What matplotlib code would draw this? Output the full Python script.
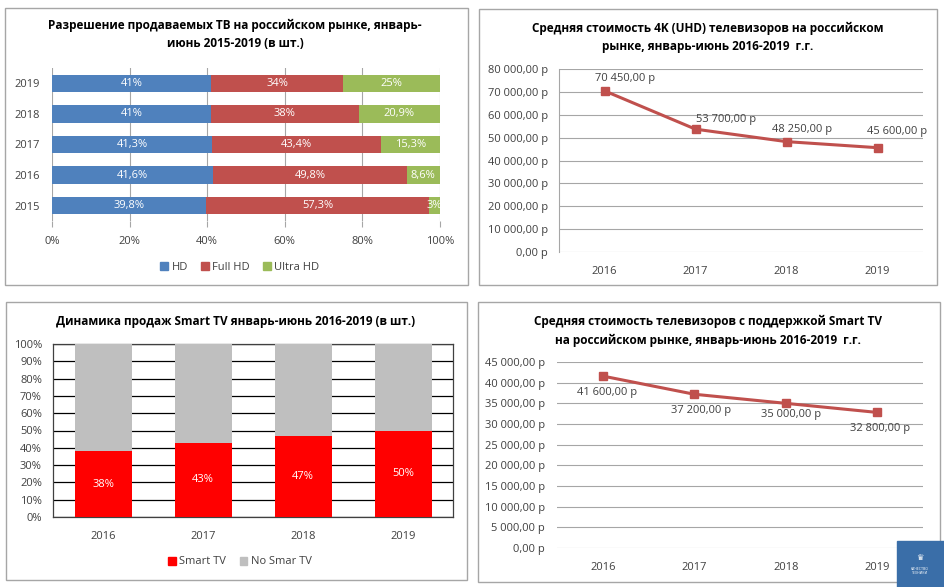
import matplotlib
matplotlib.use("Agg")
import matplotlib.pyplot as plt
from matplotlib.patches import Rectangle, Patch
import numpy as np

plt.rcParams['font.family'] = ['Open Sans', 'DejaVu Sans']

# ---------------- data ----------------
res_years = ["2015", "2016", "2017", "2018", "2019"]
hd = [39.8, 41.6, 41.3, 41.0, 41.0]
full_hd = [57.3, 49.8, 43.4, 38.0, 34.0]
ultra_hd = [3.0, 8.6, 15.3, 20.9, 25.0]
hd_lbl = ["39,8%", "41,6%", "41,3%", "41%", "41%"]
full_lbl = ["57,3%", "49,8%", "43,4%", "38%", "34%"]
ultra_lbl = ["3%", "8,6%", "15,3%", "20,9%", "25%"]

years4 = ["2016", "2017", "2018", "2019"]
uhd_price = [70450, 53700, 48250, 45600]
smart_share = [38, 43, 47, 50]
smart_price = [41600, 37200, 35000, 32800]

W, H = 944, 587
fig = plt.figure(figsize=(W / 100, H / 100), dpi=100)

def fx(px): return px / W
def fy(py): return 1 - py / H
def axes_px(x0, y0, x1, y1):
    return fig.add_axes([fx(x0), fy(y1), fx(x1) - fx(x0), (y1 - y0) / H])

def rub(v):
    s = f"{v:,.2f}".replace(",", " ").replace(".", ",")
    return s + " р"

TXT = "#404040"
BOX = "#A6A6A6"
GRID = "#A6A6A6"
C_BLUE, C_RED, C_GREEN = "#4F81BD", "#C0504D", "#9BBB59"

# panel boxes
for (x0, y0, x1, y1) in [(5, 8, 468, 285), (479, 9, 937, 285), (6, 302, 467, 580), (478, 302, 940, 582)]:
    fig.patches.append(Rectangle((fx(x0), fy(y1)), fx(x1) - fx(x0), (y1 - y0) / H,
                                 transform=fig.transFigure, fill=False, edgecolor=BOX, lw=1))

# ---------------- Panel 1 ----------------
ax1 = axes_px(52, 68, 440, 221)
y = np.arange(len(res_years))
h = 0.57
left = np.zeros(len(y))
for vals, col, lbls in [(hd, C_BLUE, hd_lbl), (full_hd, C_RED, full_lbl), (ultra_hd, C_GREEN, ultra_lbl)]:
    ax1.barh(y, vals, left=left, height=h, color=col, zorder=3)
    for i, (v, l) in enumerate(zip(vals, lbls)):
        ax1.text(left[i] + v / 2, y[i], l, ha='center', va='center', color='white', fontsize=8, zorder=4)
    left = left + np.array(vals)
ax1.set_xlim(0, 100)
ax1.set_ylim(-0.5, len(y) - 0.5)
ax1.set_yticks(y)
ax1.set_yticklabels(res_years, fontsize=8, color=TXT)
ax1.set_xticks(np.arange(0, 101, 20))
ax1.set_xticklabels([f"{v}%" for v in range(0, 101, 20)], fontsize=8, color=TXT)
ax1.grid(axis='x', color=GRID, lw=0.8, zorder=0)
for s in ax1.spines.values():
    s.set_visible(False)
ax1.tick_params(axis='y', length=0, pad=9)
ax1.tick_params(axis='x', length=4, color=GRID, pad=7)
fig.text(fx(235), fy(34), "Разрешение продаваемых ТВ на российском рынке, январь-\nиюнь 2015-2019 (в шт.)",
         ha='center', va='center', fontsize=8.5, fontweight='bold', linespacing=1.5)
fig.legend(handles=[Patch(color=C_BLUE, label="HD"), Patch(color=C_RED, label="Full HD"),
                    Patch(color=C_GREEN, label="Ultra HD")],
           loc='center', bbox_to_anchor=(fx(240), fy(267)), ncol=3, frameon=False, fontsize=8,
           handlelength=0.7, handleheight=0.7, handletextpad=0.3, columnspacing=1.2,
           labelcolor=TXT)

# ---------------- Panel 2 ----------------
ax2 = axes_px(559, 69, 923, 252)
x4 = np.arange(len(years4))
ax2.plot(x4, uhd_price, color=C_RED, lw=2.2, marker='s', ms=5.5, zorder=3)
ax2.set_xlim(-0.5, 3.5)
ax2.set_ylim(0, 80000)
ax2.set_yticks(np.arange(0, 80001, 10000))
ax2.set_yticklabels([rub(v) for v in range(0, 80001, 10000)], fontsize=8, color=TXT)
ax2.set_xticks(x4)
ax2.set_xticklabels(years4, fontsize=8, color=TXT)
ax2.grid(axis='y', color=GRID, lw=0.8, zorder=0)
for k, s in ax2.spines.items():
    s.set_visible(k == 'left')
ax2.spines['left'].set_color(GRID)
ax2.tick_params(length=0)
ax2.tick_params(axis='x', pad=10)
ax2.tick_params(axis='y', pad=8)
offs2 = [(21, 12), (31, 10), (16, 12), (20, 16)]
for i, v in enumerate(uhd_price):
    ax2.annotate(rub(v), (x4[i], v), xytext=offs2[i], textcoords='offset pixels',
                 ha='center', va='center', fontsize=8, color=TXT)
fig.text(fx(708), fy(37), "Средняя стоимость 4K (UHD) телевизоров на российском\nрынке, январь-июнь 2016-2019  г.г.",
         ha='center', va='center', fontsize=8.5, fontweight='bold', linespacing=1.5)

# ---------------- Panel 3 ----------------
ax3 = axes_px(53, 344, 453, 517)
no_smart = [100 - v for v in smart_share]
ax3.bar(x4, smart_share, width=0.57, color="#FF0000", zorder=3)
ax3.bar(x4, no_smart, bottom=smart_share, width=0.57, color="#BFBFBF", zorder=3)
for i, v in enumerate(smart_share):
    ax3.text(x4[i], v / 2, f"{v}%", ha='center', va='center', color='white', fontsize=8, zorder=4)
ax3.set_xlim(-0.5, 3.5)
ax3.set_ylim(0, 100)
ax3.set_yticks(np.arange(0, 101, 10))
ax3.set_yticklabels([f"{v}%" for v in range(0, 101, 10)], fontsize=8, color=TXT)
ax3.set_xticks(x4)
ax3.set_xticklabels(years4, fontsize=8, color=TXT)
ax3.grid(axis='y', color='black', lw=0.9, zorder=0)
for s in ax3.spines.values():
    s.set_color('#404040')
    s.set_linewidth(0.9)
ax3.tick_params(length=0)
ax3.tick_params(axis='x', pad=10)
ax3.tick_params(axis='y', pad=8)
fig.text(fx(236), fy(321), "Динамика продаж Smart TV январь-июнь 2016-2019 (в шт.)",
         ha='center', va='center', fontsize=8.5, fontweight='bold')
fig.legend(handles=[Patch(color="#FF0000", label="Smart TV"), Patch(color="#BFBFBF", label="No Smar TV")],
           loc='center', bbox_to_anchor=(fx(240), fy(562)), ncol=2, frameon=False, fontsize=8,
           handlelength=0.7, handleheight=0.7, handletextpad=0.3, columnspacing=1.2,
           labelcolor=TXT)

# ---------------- Panel 4 ----------------
ax4 = axes_px(557, 362, 923, 548)
ax4.plot(x4, smart_price, color=C_RED, lw=2.2, marker='s', ms=6, zorder=3)
ax4.set_xlim(-0.5, 3.5)
ax4.set_ylim(0, 45000)
ax4.set_yticks(np.arange(0, 45001, 5000))
ax4.set_yticklabels([rub(v) for v in range(0, 45001, 5000)], fontsize=8, color=TXT)
ax4.set_xticks(x4)
ax4.set_xticklabels(years4, fontsize=8, color=TXT)
ax4.grid(axis='y', color=GRID, lw=0.8, zorder=0)
for s in ax4.spines.values():
    s.set_visible(False)
ax4.tick_params(length=0)
ax4.tick_params(axis='x', pad=10)
ax4.tick_params(axis='y', pad=8.5)
offs4 = [(4, -16), (7, -16), (5, -11), (3, -16)]
for i, v in enumerate(smart_price):
    ax4.annotate(rub(v), (x4[i], v), xytext=offs4[i], textcoords='offset pixels',
                 ha='center', va='center', fontsize=8, color=TXT)
fig.text(fx(708), fy(331), "Средняя стоимость телевизоров с поддержкой Smart TV\nна российском рынке, январь-июнь 2016-2019  г.г.",
         ha='center', va='center', fontsize=8.5, fontweight='bold', linespacing=1.5)

# logo
fig.patches.append(Rectangle((fx(897), 0), fx(944) - fx(897), (587 - 541) / H,
                             transform=fig.transFigure, color="#3A6EA8", zorder=10))
fig.text(fx(920), fy(557), "♛", ha='center', va='center', color='white', fontsize=6,
         family='DejaVu Sans', zorder=11)
fig.text(fx(920), fy(571), "КАЧЕСТВО\nТЕХНИКИ", ha='center', va='center', color='white',
         fontsize=2.5, zorder=11, linespacing=1.1)

fig.savefig("out.png", dpi=100)
